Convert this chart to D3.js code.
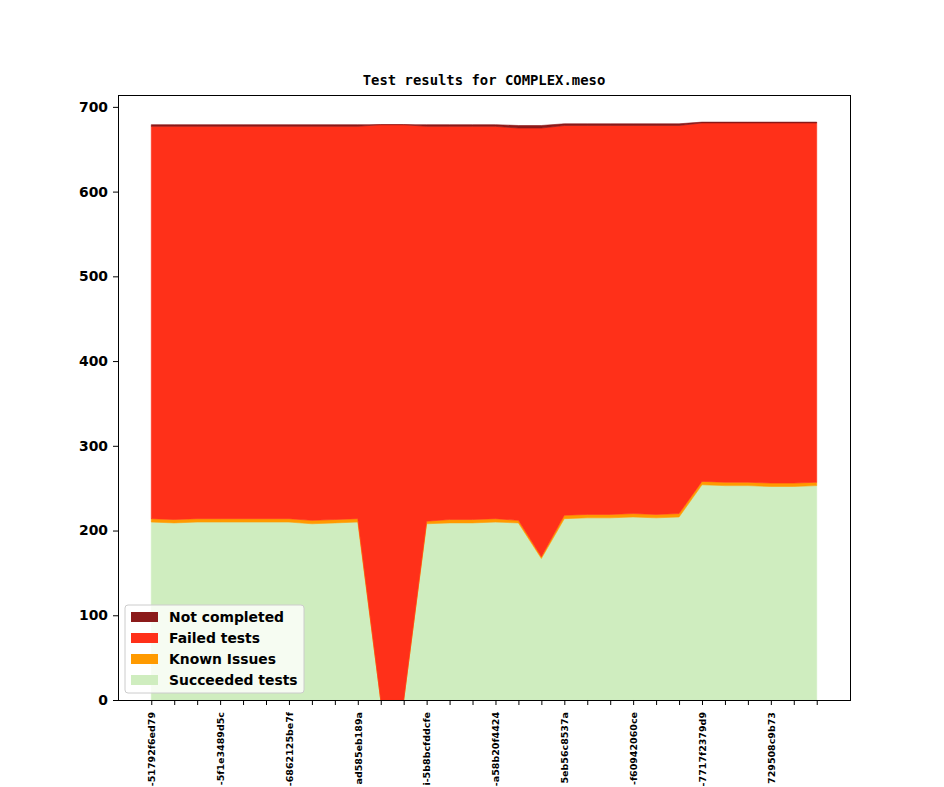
<!DOCTYPE html>
<html>
<head>
<meta charset="utf-8">
<script src="https://cdn.jsdelivr.net/npm/d3@7"></script>
<style>
  body { margin: 0; background: #fff; }
  svg { display: block; }
</style>
</head>
<body>
<div id="chart"></div>
<script>
// commit labels shown on every third tick (the rest are blank)
const commits = ["-51792f6ed79", "", "", "-5f1e3489d5c", "", "", "-6862125be7f", "", "",
  "ad585eb189a", "", "", "i-5b8bcfddcfe", "", "", "-a58b20f4424", "", "",
  "5eb56c8537a", "", "", "-f60942060ce", "", "", "-7717f2379d9", "", "",
  "729508c9b73", "", ""];

// series values
const succeeded = [210, 209, 210, 210, 210, 210, 210, 208, 209, 210, 0, 0, 208, 209, 209,
  210, 209, 167, 214, 215, 215, 216, 215, 216, 254, 253, 253, 252, 252, 253];
const knownIssues = [4, 4, 4, 4, 4, 4, 4, 4, 4, 4, 0, 0, 3, 4, 4,
  4, 3, 2, 4, 4, 4, 4, 4, 4, 4, 4, 4, 4, 4, 4];
const failed = [463, 464, 463, 463, 463, 463, 463, 465, 464, 463, 679, 679, 466, 464, 464,
  463, 463, 506, 460, 459, 459, 458, 459, 458, 423, 424, 424, 425, 425, 424];
const notCompleted = [2, 2, 2, 2, 2, 2, 2, 2, 2, 2, 0, 0, 2, 2, 2,
  2, 3, 3, 2, 2, 2, 2, 2, 2, 1, 1, 1, 1, 1, 1];

const yTicks = [0, 100, 200, 300, 400, 500, 600, 700];

const seriesKeys = ["succeeded", "known", "failed", "notCompleted"];
const seriesNames = {
  notCompleted: "Not completed",
  failed: "Failed tests",
  known: "Known Issues",
  succeeded: "Succeeded tests"
};
const colors = {
  notCompleted: "#8b1a1a",
  failed: "#ff3019",
  known: "#ff9a00",
  succeeded: "#cfedbf"
};

const width = 944, height = 787;
const margin = {left: 118, right: 94, top: 95, bottom: 87};
const plotW = width - margin.left - margin.right;
const plotH = height - margin.top - margin.bottom;

const rows = commits.map((c, i) => ({
  i: i,
  succeeded: succeeded[i],
  known: knownIssues[i],
  failed: failed[i],
  notCompleted: notCompleted[i]
}));

const svg = d3.select("#chart").append("svg")
  .attr("width", width)
  .attr("height", height);

// matplotlib-like 5% margin on x
const n = commits.length;
const pad = (n - 1) * 0.05;
const x = d3.scaleLinear()
  .domain([-pad, n - 1 + pad])
  .range([margin.left, margin.left + plotW]);
const y = d3.scaleLinear()
  .domain([0, 714])
  .range([margin.top + plotH, margin.top]);

const stack = d3.stack().keys(seriesKeys);
const layers = stack(rows);

const area = d3.area()
  .x(d => x(d.data.i))
  .y0(d => y(d[0]))
  .y1(d => y(d[1]));

svg.append("g")
  .selectAll("path.layer")
  .data(layers)
  .join("path")
  .classed("layer", true)
  .attr("fill", d => colors[d.key])
  .attr("stroke", d => colors[d.key])
  .attr("stroke-width", 0.6)
  .attr("d", area);

// axes
const xAxis = d3.axisBottom(x)
  .tickValues(d3.range(n))
  .tickSize(5)
  .tickFormat(i => commits[i]);

const gx = svg.append("g")
  .attr("transform", `translate(0,${margin.top + plotH})`)
  .call(xAxis);
gx.select(".domain").remove();
gx.selectAll("line").attr("stroke", "#000");
gx.selectAll("text")
  .attr("transform", "rotate(-90)")
  .attr("text-anchor", "end")
  .attr("x", -12)
  .attr("y", 0)
  .attr("dy", "0.35em")
  .style("font-family", "DejaVu Sans")
  .style("font-weight", "bold")
  .style("font-size", "9.5px")
  .attr("fill", "#000");

const yAxis = d3.axisLeft(y)
  .tickValues(yTicks)
  .tickSize(5)
  .tickPadding(5);

const gy = svg.append("g")
  .attr("transform", `translate(${margin.left},0)`)
  .call(yAxis);
gy.select(".domain").remove();
gy.selectAll("line").attr("stroke", "#000");
gy.selectAll("text")
  .style("font-family", "DejaVu Sans")
  .style("font-weight", "bold")
  .style("font-size", "13.9px")
  .attr("fill", "#000");

// frame
svg.append("rect")
  .attr("x", margin.left + 0.5)
  .attr("y", margin.top + 0.5)
  .attr("width", plotW)
  .attr("height", plotH)
  .attr("fill", "none")
  .attr("stroke", "#000")
  .attr("stroke-width", 1);

// title
svg.append("text")
  .attr("x", margin.left + plotW / 2)
  .attr("y", margin.top - 10)
  .attr("text-anchor", "middle")
  .style("font-family", "DejaVu Sans Mono")
  .style("font-weight", "bold")
  .style("font-size", "13.9px")
  .text("Test results for COMPLEX.meso");

// legend
const legendKeys = ["notCompleted", "failed", "known", "succeeded"];
const legend = svg.append("g")
  .attr("transform", "translate(125,605)");
legend.append("rect")
  .attr("width", 179)
  .attr("height", 88)
  .attr("rx", 3)
  .attr("fill", "#fff")
  .attr("fill-opacity", 0.8)
  .attr("stroke", "#ccc")
  .attr("stroke-width", 1);
const items = legend.selectAll("g.item")
  .data(legendKeys)
  .join("g")
  .classed("item", true)
  .attr("transform", (d, i) => `translate(6,${7 + i * 21})`);
items.append("rect")
  .attr("width", 27)
  .attr("height", 10)
  .attr("fill", d => colors[d]);
items.append("text")
  .attr("x", 38)
  .attr("y", 5)
  .attr("dy", "0.35em")
  .style("font-family", "DejaVu Sans")
  .style("font-weight", "bold")
  .style("font-size", "13.9px")
  .text(d => seriesNames[d]);
</script>
</body>
</html>
